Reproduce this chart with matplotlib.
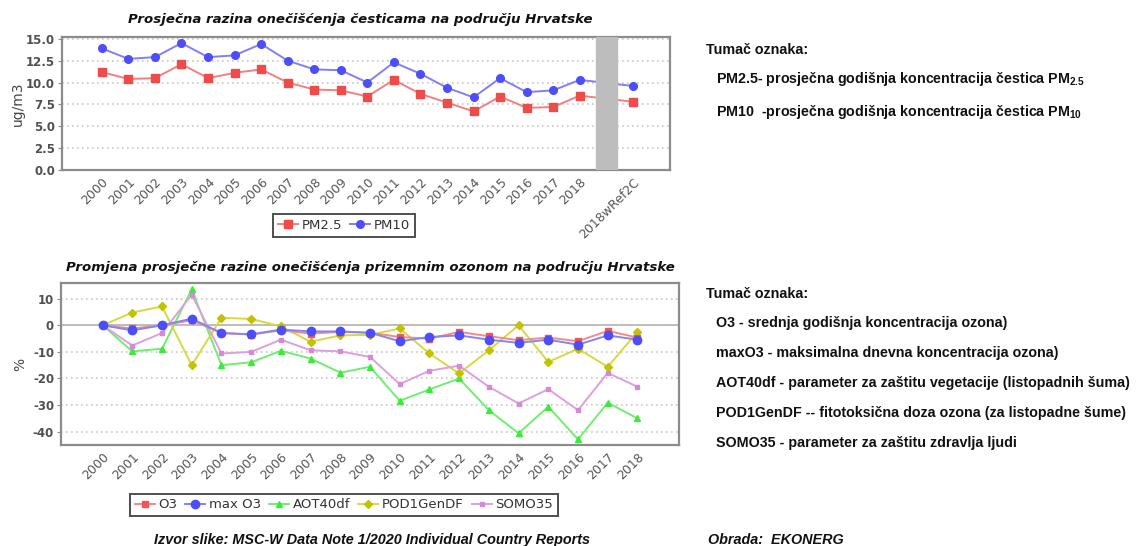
import matplotlib
matplotlib.use('Agg')
import matplotlib.pyplot as plt

# godisnji prosjeci cestica (ug/m3)
god_pm = ['2000', '2001', '2002', '2003', '2004', '2005', '2006', '2007', '2008', '2009',
          '2010', '2011', '2012', '2013', '2014', '2015', '2016', '2017', '2018', '2018wRef2C']
pm25 = [11.2, 10.4, 10.5, 12.1, 10.5, 11.1, 11.5, 10.0, 9.2, 9.1,
        8.4, 10.3, 8.7, 7.7, 6.7, 8.4, 7.1, 7.2, 8.5, 7.8]
pm10 = [13.9, 12.7, 12.9, 14.5, 12.9, 13.1, 14.4, 12.5, 11.5, 11.4,
        10.0, 12.3, 11.0, 9.4, 8.3, 10.5, 8.9, 9.1, 10.3, 9.6]

# promjena ozonskih pokazatelja u odnosu na 2000. (%)
god_o3 = [str(g) for g in range(2000, 2019)]
o3 = [0, -1.2, 0, 1.9, -2.9, -3.5, -1.9, -3.1, -2.5, -2.8,
      -4.4, -5.0, -2.5, -4.1, -5.6, -4.6, -6.0, -2.1, -4.6]
max_o3 = [0, -1.9, 0, 2.5, -2.9, -3.4, -1.6, -2.3, -2.3, -2.8,
          -6.0, -4.4, -3.8, -5.4, -6.6, -5.4, -7.3, -3.8, -5.4]
aot40df = [0, -9.8, -8.8, 13.5, -15.0, -13.9, -9.6, -12.5, -17.8, -15.6,
           -28.4, -24.1, -20.0, -31.9, -40.6, -30.6, -42.9, -29.1, -35.0]
pod1gendf = [0, 4.8, 7.1, -15.0, 2.8, 2.4, -0.4, -6.2, -3.8, -3.6,
             -1.2, -10.6, -18.1, -9.4, 0.0, -13.8, -8.8, -15.6, -2.5]
somo35 = [0, -7.6, -2.9, 11.5, -10.6, -10.0, -5.4, -9.4, -9.8, -11.9,
          -22.1, -17.1, -15.2, -23.1, -29.4, -24.0, -31.9, -17.9, -23.1]

tumac_pm = ['PM2.5- prosječna godišnja koncentracija čestica PM$_{2.5}$',
            'PM10  -prosječna godišnja koncentracija čestica PM$_{10}$']
tumac_o3 = ['O3 - srednja godišnja koncentracija ozona)',
            'maxO3 - maksimalna dnevna koncentracija ozona)',
            'AOT40df - parameter za zaštitu vegetacije (listopadnih šuma)',
            'POD1GenDF -- fitotoksična doza ozona (za listopadne šume)',
            'SOMO35 - parameter za zaštitu zdravlja ljudi']

plt.rcParams['mathtext.default'] = 'regular'

W, H = 1136, 546
fig = plt.figure(figsize=(W / 100, H / 100), dpi=100)


def fx(x):
    return x / W


def fy(y):
    return 1 - y / H


def styliraj(ax, yticks, fmt):
    ax.set_yticks(yticks)
    ax.set_yticklabels([fmt.format(v) for v in yticks])
    ax.yaxis.grid(True, linestyle=(0, (1, 2)), color='#c8c8c8', linewidth=1.2)
    ax.set_axisbelow(True)
    for s in ax.spines.values():
        s.set_color('#8c8c8c')
        s.set_linewidth(1.6)
    ax.tick_params(axis='y', length=3, color='#888888', labelsize=8.5,
                   labelcolor='#505050', pad=2)
    ax.tick_params(axis='x', length=0, labelsize=9, labelcolor='#555555', pad=4)
    for t in ax.get_yticklabels():
        t.set_fontweight('bold')


def legenda(ax, cx, cy):
    leg = ax.legend(loc='center', bbox_to_anchor=(fx(cx), fy(cy)),
                    bbox_transform=fig.transFigure, ncol=5, fancybox=False,
                    frameon=True, fontsize=9.5, handlelength=1.5, handletextpad=0.3,
                    columnspacing=0.6, borderpad=0.35, borderaxespad=0)
    leg.get_frame().set_edgecolor('#222222')
    leg.get_frame().set_linewidth(1.4)
    for t in leg.get_texts():
        t.set_color('#333333')


# --- gornji graf: PM2.5 i PM10 ---
ax1 = fig.add_axes([fx(62), fy(170), fx(670) - fx(62), (170 - 37) / H])
x_pm = list(range(len(god_pm) - 1)) + [len(god_pm)]
ax1.axvspan(len(god_pm) - 1 - 0.4, len(god_pm) - 1 + 0.4, color='#bdbdbd', zorder=3)
ax1.plot(x_pm, pm25, color='#f28080', lw=1.4, marker='s', ms=5.5,
         mfc='#ee4b4b', mec='#ee4b4b', label='PM2.5', zorder=2)
ax1.plot(x_pm, pm10, color='#8080f4', lw=1.4, marker='o', ms=5.5,
         mfc='#4d4dfa', mec='#4d4dfa', label='PM10', zorder=2)
ax1.set_xlim(-1.5, 21.4)
ax1.set_ylim(0, 15.2)
styliraj(ax1, [0, 2.5, 5, 7.5, 10, 12.5, 15], '{:.1f}')
ax1.set_xticks(x_pm)
ax1.set_xticklabels(god_pm, rotation=45, ha='right', rotation_mode='anchor')
ax1.set_ylabel('ug/m3', fontsize=10, color='#444444', labelpad=1)
legenda(ax1, 344, 225.5)

# --- donji graf: ozon ---
ax2 = fig.add_axes([fx(61), fy(445), fx(679) - fx(61), (445 - 283) / H])
x_o3 = list(range(len(god_o3)))
ax2.axhline(0, color='#bdbdbd', lw=1.4, zorder=1)
ax2.plot(x_o3, o3, color='#f58a8a', lw=1.4, marker='s', ms=5,
         mfc='#f25555', mec='#f25555', label='O3', zorder=4)
ax2.plot(x_o3, max_o3, color='#8585f5', lw=1.4, marker='o', ms=6,
         mfc='#4d4dfa', mec='#4d4dfa', label='max O3', zorder=5)
ax2.plot(x_o3, aot40df, color='#70ee70', lw=1.4, marker='^', ms=5,
         mfc='#3fe83f', mec='#3fe83f', label='AOT40df', zorder=3)
ax2.plot(x_o3, pod1gendf, color='#d8d840', lw=1.4, marker='D', ms=4.5,
         mfc='#c2c200', mec='#c2c200', label='POD1GenDF', zorder=3)
ax2.plot(x_o3, somo35, color='#dda0dd', lw=1.4, marker='s', ms=3.5,
         mfc='#d58ad5', mec='#d58ad5', label='SOMO35', zorder=3)
ax2.set_xlim(-1.4, 19.4)
ax2.set_ylim(-45, 15.9)
styliraj(ax2, [-40, -30, -20, -10, 0, 10], '{:d}')
ax2.set_xticks(x_o3)
ax2.set_xticklabels(god_o3, rotation=45, ha='right', rotation_mode='anchor')
ax2.set_ylabel('%', fontsize=10, color='#444444', labelpad=4)
legenda(ax2, 344, 505)

# naslovi i izvor
nasl = dict(fontsize=9.6, fontweight='bold', fontstyle='italic', color='#111111',
            ha='center', va='center')
fig.text(fx(360), fy(19), 'Prosječna razina onečišćenja česticama na području Hrvatske', **nasl)
fig.text(fx(370), fy(267), 'Promjena prosječne razine onečišćenja prizemnim ozonom na području Hrvatske', **nasl)
podnozje = dict(fontsize=10.4, fontweight='bold', fontstyle='italic', color='#111111',
                va='center', family='Liberation Sans')
fig.text(fx(372), fy(540), 'Izvor slike: MSC-W Data Note 1/2020 Individual Country Reports',
         ha='center', **podnozje)
fig.text(fx(708), fy(540), 'Obrada:  EKONERG', ha='left', **podnozje)

# tumac oznaka
opis = dict(fontsize=10.3, fontweight='bold', color='#111111', ha='left', va='center',
            family='Liberation Sans')
fig.text(fx(706), fy(50), 'Tumač oznaka:', **opis)
for i, t in enumerate(tumac_pm):
    fig.text(fx(716), fy(79 + 33 * i), t, **opis)
fig.text(fx(706), fy(294), 'Tumač oznaka:', **opis)
for i, t in enumerate(tumac_o3):
    fig.text(fx(716), fy(323 + 30 * i), t, **opis)

fig.savefig('out.png', dpi=100)
